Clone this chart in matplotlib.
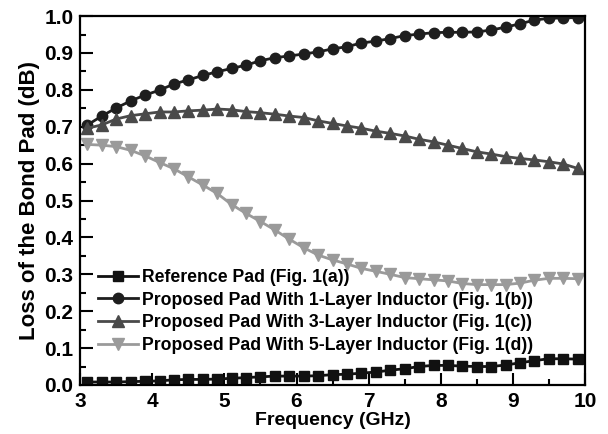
import numpy as np
import matplotlib.pyplot as plt
from matplotlib.ticker import MultipleLocator

plt.rcParams['font.family'] = ['Liberation Sans', 'DejaVu Sans']
plt.rcParams['font.weight'] = 'bold'

# frequency points (GHz)
freq = [3.1, 3.3, 3.5, 3.7, 3.9, 4.1, 4.3, 4.5, 4.7, 4.9,
        5.1, 5.3, 5.5, 5.7, 5.9, 6.1, 6.3, 6.5, 6.7, 6.9,
        7.1, 7.3, 7.5, 7.7, 7.9, 8.1, 8.3, 8.5, 8.7, 8.9,
        9.1, 9.3, 9.5, 9.7, 9.9]

ref_pad = [0.008, 0.008, 0.008, 0.009, 0.010, 0.011, 0.014, 0.015, 0.015, 0.016,
           0.018, 0.020, 0.022, 0.024, 0.024, 0.024, 0.025, 0.028, 0.029, 0.032,
           0.035, 0.040, 0.044, 0.050, 0.053, 0.053, 0.051, 0.050, 0.050, 0.054,
           0.060, 0.066, 0.071, 0.071, 0.070]

layer1 = [0.705, 0.729, 0.751, 0.770, 0.786, 0.799, 0.816, 0.827, 0.839, 0.849,
          0.858, 0.867, 0.879, 0.887, 0.892, 0.897, 0.903, 0.911, 0.917, 0.927,
          0.932, 0.939, 0.947, 0.951, 0.955, 0.956, 0.956, 0.957, 0.962, 0.970,
          0.979, 0.989, 0.994, 0.995, 0.996]

layer3 = [0.696, 0.705, 0.721, 0.730, 0.735, 0.740, 0.740, 0.743, 0.745, 0.748,
          0.746, 0.741, 0.738, 0.734, 0.729, 0.725, 0.716, 0.709, 0.702, 0.696,
          0.688, 0.682, 0.675, 0.666, 0.659, 0.650, 0.641, 0.632, 0.626, 0.619,
          0.614, 0.610, 0.605, 0.599, 0.587]

layer5 = [0.652, 0.650, 0.646, 0.636, 0.621, 0.603, 0.586, 0.564, 0.542, 0.519,
          0.489, 0.465, 0.443, 0.420, 0.395, 0.372, 0.352, 0.339, 0.328, 0.316,
          0.308, 0.300, 0.291, 0.288, 0.285, 0.282, 0.275, 0.272, 0.272, 0.272,
          0.276, 0.284, 0.289, 0.289, 0.288]

labels = ['Reference Pad (Fig. 1(a))',
          'Proposed Pad With 1-Layer Inductor (Fig. 1(b))',
          'Proposed Pad With 3-Layer Inductor (Fig. 1(c))',
          'Proposed Pad With 5-Layer Inductor (Fig. 1(d))']

fig = plt.figure(figsize=(6.08, 4.34), dpi=100)
ax = fig.add_axes([0.132, 0.113, 0.830, 0.850])

ax.plot(freq, ref_pad, '-s', color='#111111', lw=2, ms=6.5, label=labels[0])
ax.plot(freq, layer1, '-o', color='#1e1e1e', lw=2, ms=7.5, label=labels[1])
ax.plot(freq, layer3, '-^', color='#4a4a4a', lw=2, ms=8.5, label=labels[2])
ax.plot(freq, layer5, '-v', color='#9a9a9a', lw=2, ms=8.5, label=labels[3])

ax.set_xlim(3, 10)
ax.set_ylim(0, 1.0)
ax.xaxis.set_major_locator(MultipleLocator(1))
ax.xaxis.set_minor_locator(MultipleLocator(0.5))
ax.yaxis.set_major_locator(MultipleLocator(0.1))
ax.yaxis.set_minor_locator(MultipleLocator(0.05))
ax.tick_params(which='major', direction='in', length=9, width=1.5,
               labelsize=15, pad=5)
ax.tick_params(which='minor', direction='in', length=4.5, width=1.5)
for sp in ax.spines.values():
    sp.set_linewidth(1.6)

ax.set_xlabel('Frequency (GHz)', fontsize=14, fontweight='bold', labelpad=1)
ax.set_ylabel('Loss of the Bond Pad (dB)', fontsize=16, fontweight='bold', labelpad=3)

ax.legend(loc='lower left', bbox_to_anchor=(0.01, 0.05), frameon=False,
          fontsize=12.7, handlelength=2.3, handletextpad=0.2, labelspacing=0.33,
          borderpad=0.2)

fig.savefig('out.png', dpi=100)
